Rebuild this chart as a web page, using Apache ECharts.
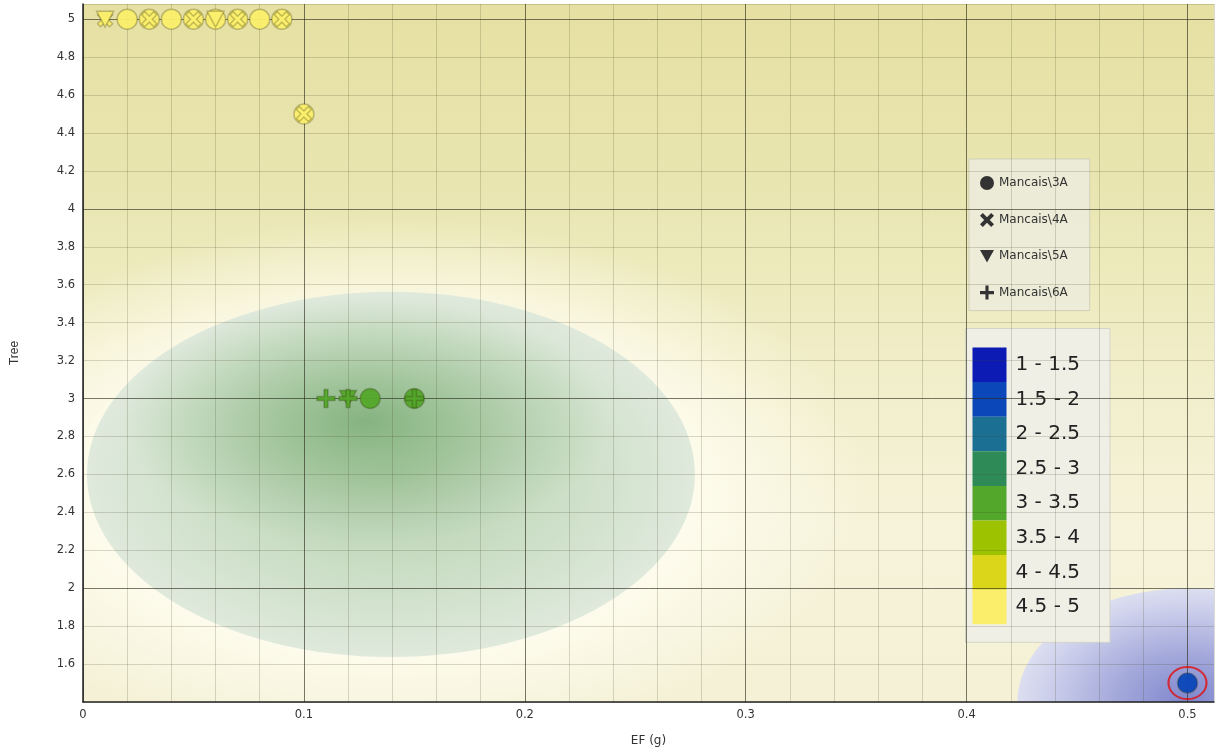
<!DOCTYPE html>
<html><head><meta charset="utf-8">
<script src="https://cdn.jsdelivr.net/npm/echarts@6/dist/echarts.min.js"></script>
<style>html,body{margin:0;padding:0;background:#fff}#c{width:1217px;height:753px}</style>
</head><body><div id="c"></div>
<script>
// ---- data ----
const seriesNames = ['Mancais\\3A', 'Mancais\\4A', 'Mancais\\5A', 'Mancais\\6A'];
const mancais3A = [[0.02,5],[0.03,5],[0.04,5],[0.05,5],[0.06,5],[0.07,5],[0.08,5],[0.09,5],[0.1,4.5],[0.13,3],[0.15,3],[0.5,1.5]];
const mancais4A = [[0.01,5],[0.03,5],[0.05,5],[0.07,5],[0.09,5],[0.1,4.5]];
const mancais5A = [[0.01,5],[0.06,5],[0.12,3]];
const mancais6A = [[0.11,3],[0.12,3],[0.15,3]];
const highlightedPoint = [[0.5,1.5]];
const rangeLabels = ['1 - 1.5','1.5 - 2','2 - 2.5','2.5 - 3','3 - 3.5','3.5 - 4','4 - 4.5','4.5 - 5'];
const rangeBounds = [[1,1.5],[1.5,2],[2,2.5],[2.5,3],[3,3.5],[3.5,4],[4,4.5],[4.5,5]];
const xTickValues = [0, 0.1, 0.2, 0.3, 0.4, 0.5];
const yTickValues = [1.6,1.8,2,2.2,2.4,2.6,2.8,3,3.2,3.4,3.6,3.8,4,4.2,4.4,4.6,4.8,5];
// interpolated surface zones, data units: [centerX, centerY, radiusX, radiusY]
const paleZone  = [[0.14, 2.55, 0.215, 1.4]];
const greenZone = [[0.1394, 2.6, 0.1376, 0.963]];
const greenCore = [[0.128, 2.88, 0.11, 0.65]];
const blueZone  = [[0.5, 1.4, 0.077, 0.6]];

// ---- styles ----
const rangeColors = ['#0b1bb3','#0b47b8','#1b6f92','#2e8b58','#53a72a','#9cc200','#dbd61a','#fbee6b'];
const majorGrid = 'rgba(40,40,25,0.62)';
const minorGrid = 'rgba(70,70,35,0.2)';
const crossPath = 'path://M0,2 L2,0 L5,3 L8,0 L10,2 L7,5 L10,8 L8,10 L5,7 L2,10 L0,8 L3,5 Z';
const plusPath = 'path://M3.9,0 H6.1 V3.9 H10 V6.1 H6.1 V10 H3.9 V6.1 H0 V3.9 H3.9 Z';
const triPath = 'path://M0,0 L10,0 L5,9 Z';

function near(v, list) { return list.some(t => Math.abs(t - v) < 1e-6); }

function zone(data, stops) {
  return {
    type: 'custom', coordinateSystem: 'cartesian2d', silent: true, clip: true, z: 2,
    data: data,
    renderItem: function (params, api) {
      const c = api.coord([api.value(0), api.value(1)]);
      const s = api.size([api.value(2), api.value(3)]);
      return {
        type: 'circle', x: c[0], y: c[1], scaleX: s[0] / s[1], scaleY: 1,
        shape: { cx: 0, cy: 0, r: s[1] },
        style: { fill: { type: 'radial', x: 0.5, y: 0.5, r: 0.5, colorStops: stops } }
      };
    }
  };
}

const pieces = rangeBounds.map((b, i) => {
  const p = { gte: b[0], label: rangeLabels[i], color: rangeColors[i] };
  if (i === rangeBounds.length - 1) p.lte = b[1]; else p.lt = b[1];
  return p;
});

const markerBase = { type: 'scatter', z: 6, animation: false,
  itemStyle: { color: '#333', borderColor: 'rgba(40,40,0,0.28)', borderWidth: 1.5, opacity: 0.95 } };

const chart = echarts.init(document.getElementById('c'));
chart.setOption({
  animation: false,
  grid: { left: 83, right: 0, top: 4, bottom: 51, show: true, borderWidth: 0,
    backgroundColor: { type: 'linear', x: 0, y: 0, x2: 0, y2: 1, colorStops: [
      { offset: 0, color: '#e6e0a2' }, { offset: 0.25, color: '#e9e5b0' },
      { offset: 0.42, color: '#eeebc0' }, { offset: 0.57, color: '#f2efcd' },
      { offset: 0.75, color: '#f6f3da' }, { offset: 1, color: '#f4f1d6' }] } },
  xAxis: {
    type: 'value', min: 0, max: 0.512, interval: 0.02, z: 5,
    name: 'EF (g)', nameLocation: 'middle', nameGap: 33,
    nameTextStyle: { fontFamily: 'DejaVu Sans', fontSize: 12, color: '#333' },
    axisLine: { show: true, onZero: false, lineStyle: { color: '#222', width: 1.5 } },
    axisTick: { show: false },
    axisLabel: { margin: 7, fontFamily: 'DejaVu Sans', fontSize: 11.5, color: '#333',
      formatter: v => near(v, xTickValues) ? String(+v.toFixed(1)) : '' },
    splitLine: { show: true, lineStyle: { width: 1, color: [majorGrid, minorGrid, minorGrid, minorGrid, minorGrid] } }
  },
  yAxis: {
    type: 'value', min: 1.4, max: 5.08, interval: 0.2, z: 5,
    name: 'Tree', nameLocation: 'middle', nameGap: 62,
    nameTextStyle: { fontFamily: 'Liberation Sans', fontSize: 12, color: '#333' },
    axisLine: { show: true, onZero: false, lineStyle: { color: '#222', width: 1.5 } },
    axisTick: { show: false },
    axisLabel: { margin: 8, fontFamily: 'DejaVu Sans', fontSize: 11.5, color: '#333',
      formatter: v => near(v, yTickValues) ? String(+v.toFixed(1)) : '' },
    splitLine: { show: true, lineStyle: { width: 1, color: [minorGrid, minorGrid, minorGrid, majorGrid, minorGrid] } }
  },
  legend: {
    orient: 'vertical', left: 969, top: 159, selectedMode: false,
    data: seriesNames.map(n => ({ name: n, itemStyle: { color: '#333', borderWidth: 0, opacity: 1 } })),
    itemWidth: 14, itemHeight: 14, itemGap: 23,
    padding: [17, 22, 11, 11],
    backgroundColor: 'rgba(236,235,218,0.92)', borderColor: 'rgba(205,205,185,0.9)', borderWidth: 1,
    textStyle: { fontFamily: 'DejaVu Sans', fontSize: 12, color: '#333' }
  },
  visualMap: {
    type: 'piecewise', seriesIndex: [4, 5, 6, 7], dimension: 1,
    orient: 'vertical', inverse: true, align: 'left', left: 965, top: 328,
    itemWidth: 34, itemHeight: 34.6, itemGap: 0, itemSymbol: 'rect', textGap: 9,
    padding: [19, 30, 18, 7], selectedMode: false, hoverLink: false,
    backgroundColor: '#f0efe6', borderColor: '#d4d4c6', borderWidth: 1,
    textStyle: { fontFamily: 'DejaVu Sans', fontSize: 20, color: '#222' },
    pieces: pieces
  },
  series: [
    zone(paleZone, [{ offset: 0, color: 'rgba(255,254,245,0.95)' }, { offset: 0.65, color: 'rgba(255,253,240,0.8)' }, { offset: 1, color: 'rgba(255,253,240,0)' }]),
    zone(greenZone, [{ offset: 0, color: '#b6d0b0' }, { offset: 0.6, color: '#cddfc8' }, { offset: 1, color: '#dfe9dc' }]),
    zone(greenCore, [{ offset: 0, color: 'rgba(110,165,105,0.72)' }, { offset: 0.5, color: 'rgba(125,175,118,0.38)' }, { offset: 1, color: 'rgba(140,185,135,0)' }]),
    zone(blueZone, [{ offset: 0, color: '#7f86cc' }, { offset: 0.45, color: '#a6abdc' }, { offset: 0.85, color: '#cfd2ec' }, { offset: 1, color: '#dcdef0' }]),
    Object.assign({}, markerBase, { name: seriesNames[0], data: mancais3A, symbol: 'circle', symbolSize: 20 }),
    Object.assign({}, markerBase, { name: seriesNames[1], data: mancais4A, symbol: crossPath, symbolSize: 15 }),
    Object.assign({}, markerBase, { name: seriesNames[2], data: mancais5A, symbol: triPath, symbolSize: [17, 16] }),
    Object.assign({}, markerBase, { name: seriesNames[3], data: mancais6A, symbol: plusPath, symbolSize: 18 }),
    { type: 'scatter', name: 'highlight', data: highlightedPoint, z: 7, silent: true,
      symbol: 'circle', symbolSize: [38, 32],
      itemStyle: { color: 'rgba(0,0,0,0)', borderColor: '#e01010', borderWidth: 2 } }
  ]
});
</script></body></html>
